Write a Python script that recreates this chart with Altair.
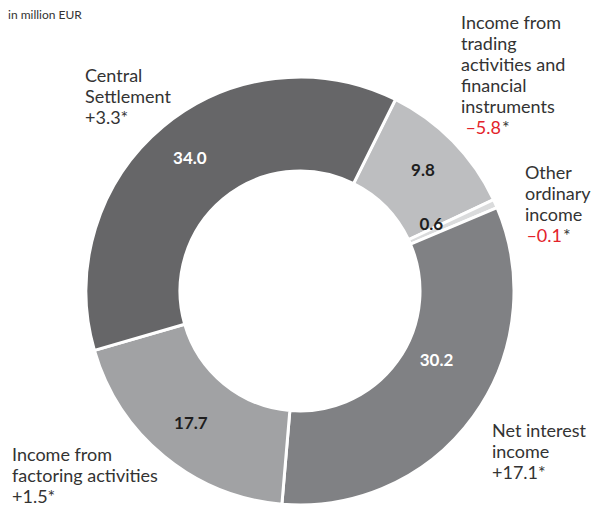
import math
import altair as alt
import pandas as pd

# ---- data ----
categories = [
    "Income from trading activities and financial instruments",
    "Other ordinary income",
    "Net interest income",
    "Income from factoring activities",
    "Central Settlement",
]
values = [9.8, 0.6, 30.2, 17.7, 34.0]
changes = [-5.8, -0.1, 17.1, 1.5, 3.3]
label_names = [
    "Income from\ntrading\nactivities and\nfinancial\ninstruments",
    "Other\nordinary\nincome",
    "Net interest\nincome",
    "Income from\nfactoring activities",
    "Central\nSettlement",
]
unit_title = "in million EUR"

# ---- style ----
palette = ["#bdbec0", "#dadbdc", "#808184", "#a1a2a4", "#666668"]
FONT = "Lato"
TXT = "#333333"
RED = "#e3232b"
CX, CY = 292, 283          # donut centre (plot coords)
R_OUT, R_IN = 214, 120
START = math.radians(26.5)
LH = 21
FS = 18


def fmt_change(v):
    return ("+" if v >= 0 else "\u2013") + f"{abs(v):.1f}"


df = pd.DataFrame({
    "cat": categories,
    "value": values,
    "idx": list(range(len(categories))),
    "name": label_names,
    "change": [fmt_change(c) for c in changes],
})

theta = alt.Theta("value:Q", stack=True,
                  scale=alt.Scale(range=[START, START + 2 * math.pi]))
order = alt.Order("idx:Q", sort="ascending")
base = alt.Chart(df)

arc = base.mark_arc(innerRadius=R_IN, outerRadius=R_OUT, stroke="white",
                    strokeWidth=3).encode(
    theta=theta,
    order=order,
    color=alt.Color("cat:N", scale=alt.Scale(domain=categories, range=palette),
                    legend=None),
    x=alt.value(CX), y=alt.value(CY),
)

white_cats = ["Central Settlement", "Net interest income"]


def inner_text(cats, radius, dx=0, dy=0):
    return base.mark_text(radius=radius, fontSize=17, fontWeight="bold", font=FONT,
                          dx=dx, dy=dy).encode(
        theta=theta,
        order=order,
        text=alt.condition(alt.FieldOneOfPredicate(field="cat", oneOf=cats),
                           alt.Text("value:Q", format=".1f"), alt.value("")),
        color=alt.condition(alt.FieldOneOfPredicate(field="cat", oneOf=white_cats),
                            alt.value("white"), alt.value("#1e1e1e")),
        x=alt.value(CX), y=alt.value(CY),
    )


vals_main = inner_text(["Central Settlement",
                        "Income from trading activities and financial instruments",
                        "Income from factoring activities"], 172)
vals_other = inner_text(["Other ordinary income"], 146, dx=-2, dy=-6)
vals_net = inner_text(["Net interest income"], 160, dx=7, dy=-24)

# outer label anchors (plot coords): left x, top y of first line, junction x
anchors = {
    categories[0]: (453, 7, 493),
    categories[1]: (517, 157, 554),
    categories[2]: (484, 415, None),
    categories[3]: (4, 439, None),
    categories[4]: (77, 60, None),
}

layers = [arc, vals_main, vals_other, vals_net]
for i, cat in enumerate(categories):
    x0, y0, junction = anchors[cat]
    sub = base.transform_filter(alt.datum.cat == cat)
    n = len(label_names[i].split("\n"))
    layers.append(sub.mark_text(align="left", baseline="top", fontSize=FS, font=FONT,
                                lineBreak="\n", lineHeight=LH, color=TXT).encode(
        x=alt.value(x0), y=alt.value(y0), text="name:N"))
    yc = y0 + n * LH
    if changes[i] < 0:
        layers.append(sub.mark_text(align="right", baseline="top", fontSize=FS,
                                    font=FONT, color=RED).encode(
            x=alt.value(junction), y=alt.value(yc), text="change:N"))
        layers.append(sub.mark_text(align="left", baseline="top", fontSize=FS,
                                    font=FONT, color=TXT, text="*").encode(
            x=alt.value(junction + 1), y=alt.value(yc)))
    else:
        layers.append(sub.transform_calculate(c2="datum.change + '*'").mark_text(
            align="left", baseline="top", fontSize=FS, font=FONT, color=TXT).encode(
            x=alt.value(x0), y=alt.value(yc), text="c2:N"))

title = alt.Chart(pd.DataFrame({"t": [unit_title]})).mark_text(
    align="left", baseline="top", fontSize=12, font=FONT, color=TXT).encode(
    x=alt.value(0), y=alt.value(2), text="t:N")
layers.append(title)

chart = alt.layer(*layers).properties(
    width=585, height=501, padding=0, autosize="none"
).configure_view(stroke=None)

chart.save("out.html", embed_options={"renderer": "svg", "actions": False})
